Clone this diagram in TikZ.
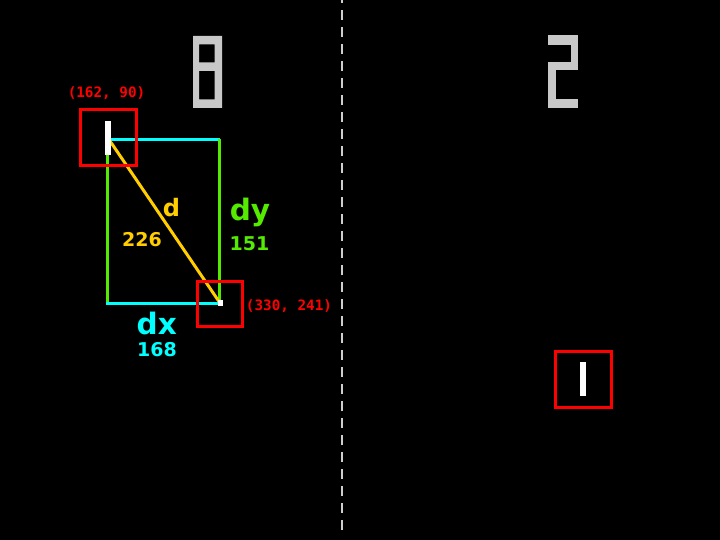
\documentclass[tikz,border=0pt]{standalone}
\usepackage{fontspec}
\newfontfamily\labelfont{DejaVu Sans Mono Bold}
\newfontfamily\boldsans{DejaVu Sans Bold}
\definecolor{pgreen}{RGB}{85,235,0}
\definecolor{pyellow}{RGB}{255,205,0}
\definecolor{pcyan}{RGB}{0,255,255}
\definecolor{pred}{RGB}{255,0,0}
\definecolor{pgray}{RGB}{200,200,200}
\begin{document}
\begin{tikzpicture}[x=1pt,y=-1pt,
  paddle/.style={fill=white,draw=none,inner sep=0pt,minimum width=6pt,minimum height=34pt},
  ballbox/.style={fill=white,draw=none,inner sep=0pt,minimum width=5pt,minimum height=6pt},
  hitbox/.style={draw=pred,line width=3pt,fill=none,inner sep=0pt},
  coordlabel/.style={text=pred,font=\labelfont\fontsize{14.3}{16}\selectfont,inner sep=0pt,anchor=base},
  biglabel/.style={font=\boldsans\fontsize{29.5}{31}\selectfont,inner sep=0pt,anchor=base},
  numlabel/.style={font=\boldsans\fontsize{19}{21}\selectfont,inner sep=0pt,anchor=base},
  seg/.style={line width=3pt}]
\fill[black] (0,0) rectangle (720,540);
\useasboundingbox (0,0) rectangle (720,540);
\begin{scope}
\clip (0,0) rectangle (720,540);
\draw[pgray!90,line width=2pt,dash pattern=on 10pt off 7pt] (342,530) -- (342,-20);
\end{scope}
% score digits
\fill[pgray,even odd rule] (193,36) rectangle (222,108) (199,44.5) rectangle (214.5,62.5) (199,71) rectangle (214.5,99.5);
\fill[pgray] (548,35) rectangle (578,45);
\fill[pgray] (571,35) rectangle (578,70);
\fill[pgray] (548,62) rectangle (578,70);
\fill[pgray] (548,62) rectangle (556,108);
\fill[pgray] (548,99.5) rectangle (578,108);
% geometry coordinates
\coordinate (tl) at (110,139.5);
\coordinate (tr) at (219.5,139.5);
\coordinate (br) at (219.5,303);
\coordinate (lt) at (107,155);
\coordinate (lb) at (107,303);
\coordinate (bl) at (106,303);
\coordinate (bc) at (220,303);
\coordinate (ds) at (110,141);
% lines
\draw[seg,pcyan] (tl) -- (tr);
\draw[seg,pgreen] (tr) -- (br);
\draw[seg,pgreen] (lt) -- (lb);
\draw[seg,pcyan] (bl) -- (bc);
\draw[seg,pyellow] (ds) -- (bc);
% boxes
\node[hitbox,minimum width=56pt,minimum height=56pt] (box1) at (108,138) {};
\node[hitbox,minimum width=45pt,minimum height=45pt] (boxb) at (220,304) {};
\node[hitbox,minimum width=56pt,minimum height=56pt] (box2) at (583,379) {};
% paddles and ball
\node[paddle] (p1) at (107.5,138) {};
\node[paddle] (p2) at (582.5,379) {};
\node[ballbox] (ball) at (220,302.5) {};
% labels
\node[coordlabel] (c1) at (106.5,98) {(162, 90)};
\node[coordlabel] (c2) at (289,310) {(330, 241)};
\node[biglabel,text=pyellow,font=\boldsans\fontsize{24}{26}\selectfont] (d) at (171.5,216) {d};
\node[numlabel,text=pyellow] (dv) at (142,246) {226};
\node[biglabel,text=pgreen] (dy) at (250,221) {dy};
\node[numlabel,text=pgreen] (dyv) at (249.5,251) {151};
\node[biglabel,text=pcyan] (dx) at (156.7,334) {dx};
\node[numlabel,text=pcyan] (dxv) at (157,356.7) {168};
\end{tikzpicture}
\end{document}
